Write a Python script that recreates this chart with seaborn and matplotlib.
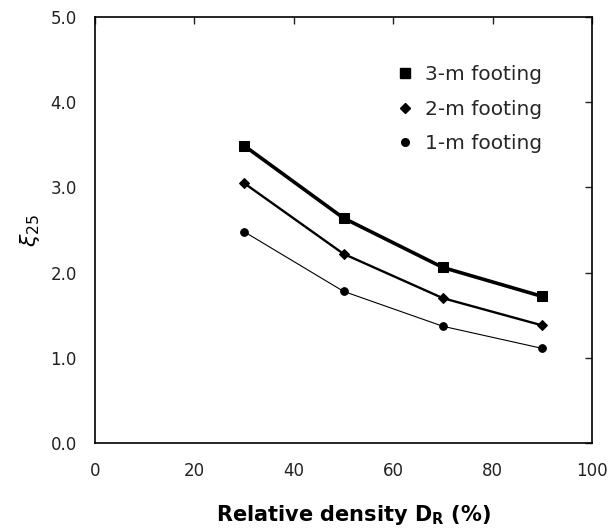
import matplotlib
matplotlib.use("Agg")
import matplotlib.pyplot as plt
import seaborn as sns
import pandas as pd
from matplotlib.lines import Line2D

sns.set_theme(style="white")
plt.rcParams['font.family'] = ['DejaVu Sans']
plt.rcParams['mathtext.fontset'] = 'dejavusans'

density = [30, 50, 70, 90]
xi_3m = [3.49, 2.64, 2.06, 1.72]
xi_2m = [3.05, 2.22, 1.70, 1.38]
xi_1m = [2.48, 1.78, 1.37, 1.11]
labels = ["3-m footing", "2-m footing", "1-m footing"]
xticks = [0, 20, 40, 60, 80, 100]
yticks = [0.0, 1.0, 2.0, 3.0, 4.0, 5.0]

fig = plt.figure(figsize=(6.08, 5.32), dpi=100)
ax = fig.add_axes([95/608, 89/532, (592-95)/608, (443-17)/532])

series = [
    (xi_3m, 's', 7, 2.6),
    (xi_2m, 'D', 5.5, 1.7),
    (xi_1m, 'o', 5.5, 0.8),
]
handles = []
for (vals, mk, ms, lw), lab in zip(series, labels):
    df = pd.DataFrame({"x": density, "y": vals})
    sns.lineplot(data=df, x="x", y="y", ax=ax, color="black", linewidth=lw,
                 marker=mk, markersize=ms, markeredgecolor="black",
                 markerfacecolor="black", legend=False)
    handles.append(Line2D([], [], linestyle='none', marker=mk, markersize=ms,
                          color='black', label=lab))

ax.set_xlim(0, 100)
ax.set_ylim(0, 5)
ax.set_xticks(xticks)
ax.set_xticklabels([str(t) for t in xticks])
ax.set_yticks(yticks)
ax.set_yticklabels([f"{t:.1f}" for t in yticks])
ax.tick_params(direction='in', length=5, width=1, top=True, right=True,
               labelsize=12, colors='#222222', pad=13)
ax.tick_params(axis='x', pad=14)
for sp in ax.spines.values():
    sp.set_color('black')
    sp.set_linewidth(1.2)

ax.set_xlabel(r"Relative density D$_\mathregular{R}$ (%)", fontsize=15,
              fontweight='bold', color='black')
ax.xaxis.set_label_coords(0.52, -0.14)
ax.set_ylabel(r"$\xi_{25}$", fontsize=16, color='black', labelpad=6)

leg = ax.legend(handles=handles, loc='upper left', bbox_to_anchor=(0.567, 0.93),
                frameon=False, fontsize=14.5, handletextpad=0.5,
                labelspacing=0.78, handlelength=1.0)

fig.savefig("out.png", dpi=100)
